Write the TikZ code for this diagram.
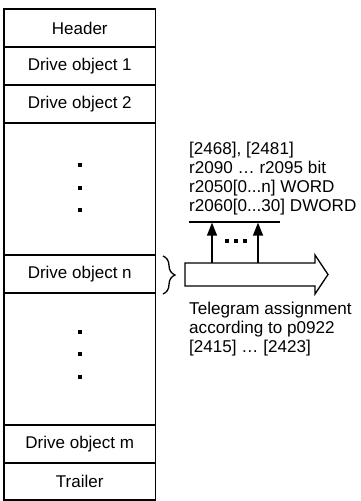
\documentclass[tikz,border=0pt]{standalone}
\usepackage{fontspec}
\setmainfont{Liberation Sans}
\usetikzlibrary{arrows.meta,decorations.pathreplacing}
\begin{document}
\begin{tikzpicture}[x=1pt,y=-1pt,
  row/.style={draw,line width=1.2pt,minimum width=151.5pt,inner sep=0pt,outer sep=0pt,anchor=north west,font=\fontsize{17}{19}\selectfont},
  txt/.style={anchor=base west,inner sep=0pt,font=\fontsize{17.1}{19}\selectfont},
  dotmark/.style={fill,inner sep=0pt,minimum size=3.6pt},
  upar/.style={line width=1.4pt,-{Triangle[length=13pt,width=10pt]}},
  ]
\useasboundingbox (0,0) rectangle (361,501);
% frame column
\node[row,minimum height=38pt] (hdr) at (4,9) {Header};
\node[row,minimum height=38pt] (do1) at (4,47) {Drive object 1};
\node[row,minimum height=38pt] (do2) at (4,85) {Drive object 2};
\node[row,minimum height=132pt] (gapa) at (4,123) {};
\node[row,minimum height=38pt] (don) at (4,255) {Drive object n};
\node[row,minimum height=132pt] (gapb) at (4,293) {};
\node[row,minimum height=38pt] (dom) at (4,425) {Drive object m};
\node[row,minimum height=37pt] (trl) at (4,463) {Trailer};
% dots
\node[dotmark] (da1) at (80,165) {};
\node[dotmark] (da2) at (80,188) {};
\node[dotmark] (da3) at (80,210) {};
\node[dotmark] (db1) at (80,332) {};
\node[dotmark] (db2) at (80,354) {};
\node[dotmark] (db3) at (80,377) {};
% brace
\draw[decorate,decoration={brace,amplitude=12pt},line width=1.3pt] (163,256) -- (163,294);
% hollow arrow
\draw[line width=1.3pt,line join=miter] (185,263) -- (315,263) -- (315,255) -- (328,274.5) -- (315,294) -- (315,286) -- (185,286) -- cycle;
\coordinate (pa) at (212,263);
\coordinate (pb) at (258,263);
% line on top
\coordinate (ll) at (189,222);
\coordinate (lr) at (280,222);
\draw[line width=1.3pt] (ll) -- (lr);
\coordinate (ta) at (212,222.6);
\coordinate (tb) at (258,222.6);
\draw[upar] (pa) -- (ta);
\draw[upar] (pb) -- (tb);
\node[dotmark,minimum size=4pt] (e1) at (227,240.5) {};
\node[dotmark,minimum size=4pt] (e2) at (236,240.5) {};
\node[dotmark,minimum size=4pt] (e3) at (245,240.5) {};
% texts
\node[txt] (l1) at (189,154.3) {[2468], [2481]};
\node[txt] (l2) at (189,173.2) {r2090 … r2095 bit};
\node[txt] (l3) at (189,192.1) {r2050[0...n] WORD};
\node[txt] (l4) at (189,211) {r2060[0...30] DWORD};
\node[txt] (t1) at (189,314) {Telegram assignment};
\node[txt] (t2) at (189,333) {according to p0922};
\node[txt] (t3) at (189,352) {[2415] … [2423]};
\end{tikzpicture}
\end{document}
